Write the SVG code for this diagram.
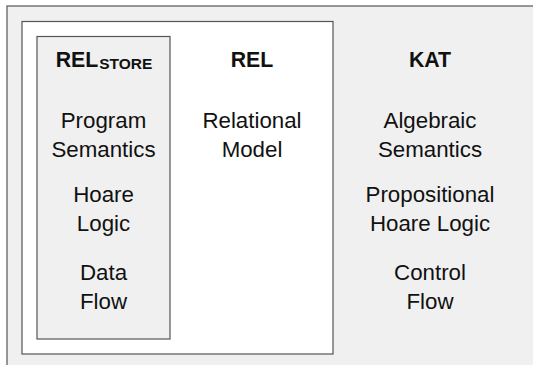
<svg xmlns="http://www.w3.org/2000/svg" width="533" height="365" viewBox="0 0 533 365">
<style>
text{font-family:"Liberation Sans",Arial,sans-serif;font-size:22.3px;fill:#111;text-anchor:middle}
.h{font-weight:bold;font-size:21.3px}
.sub{font-weight:bold;font-size:15.5px}
.box{stroke:#555;stroke-width:1.2}
</style>
<rect width="533" height="365" fill="#ffffff"/>
<g id="kat">
<rect class="box" x="7" y="6" width="540" height="370" fill="#f0f0f0"/>
<text class="h" x="430" y="67">KAT</text>
<text x="430" y="128">Algebraic</text>
<text x="430" y="157">Semantics</text>
<text x="430" y="202">Propositional</text>
<text x="430" y="231">Hoare Logic</text>
<text x="430" y="280">Control</text>
<text x="430" y="309">Flow</text>
</g>
<g id="rel">
<rect class="box" x="22" y="21.5" width="311" height="332.5" fill="#ffffff"/>
<text class="h" x="252" y="67">REL</text>
<text x="252" y="128">Relational</text>
<text x="252" y="157">Model</text>
</g>
<g id="relstore">
<rect class="box" x="37" y="36.5" width="133" height="302.5" fill="#f0f0f0"/>
<text x="104" y="67"><tspan class="h">REL</tspan><tspan class="sub" dx="1" dy="1.5">STORE</tspan></text>
<text x="103.5" y="128">Program</text>
<text x="103.5" y="157">Semantics</text>
<text x="103.5" y="202">Hoare</text>
<text x="103.5" y="231">Logic</text>
<text x="103.5" y="280">Data</text>
<text x="103.5" y="309">Flow</text>
</g>
<g id="connectors"></g>
</svg>
